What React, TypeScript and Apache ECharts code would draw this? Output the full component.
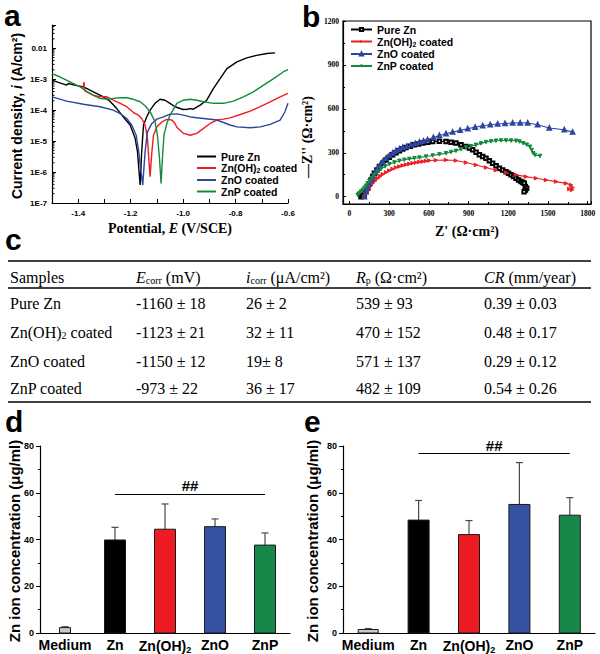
import React, { useEffect, useRef } from 'react';
import * as echarts from 'echarts';

const SANS = "'Liberation Sans', Arial, Helvetica, sans-serif";
const SERIF = "'Liberation Serif', 'Times New Roman', Times, serif";

// ---------- shared ----------
const seriesNames = ['Pure Zn', 'Zn(OH)2 coated', 'ZnO coated', 'ZnP coated'];
const lineColors = ['#000000', '#ee1d23', '#2e45a0', '#138a3c'];

// ---------- panel a: Tafel curves, [E (V vs SCE), log10 i (A/cm2)] ----------
const tafelPureZn = [
  [-1.5, -3.03], [-1.47, -3.12], [-1.444, -3.19], [-1.438, -3.14], [-1.41, -3.2], [-1.38, -3.25],
  [-1.342, -3.41], [-1.304, -3.57], [-1.279, -3.71], [-1.253, -3.95], [-1.228, -4.22], [-1.202, -4.48],
  [-1.183, -4.91], [-1.174, -5.35], [-1.169, -5.88], [-1.164, -6.42], [-1.158, -5.35], [-1.151, -4.48],
  [-1.139, -4.22], [-1.126, -4.0], [-1.107, -3.78], [-1.088, -3.65], [-1.069, -3.68], [-1.05, -3.78],
  [-1.031, -3.89], [-1.0, -3.98], [-0.985, -3.97], [-0.973, -3.95], [-0.961, -3.97], [-0.935, -3.84],
  [-0.91, -3.68], [-0.884, -3.3], [-0.859, -2.98], [-0.833, -2.66], [-0.795, -2.44], [-0.757, -2.31],
  [-0.719, -2.23], [-0.681, -2.17], [-0.649, -2.15],
];
const tafelZnOH2 = [
  [-1.381, -3.3], [-1.378, -3.09], [-1.375, -3.38], [-1.368, -3.41], [-1.342, -3.52], [-1.317, -3.57],
  [-1.291, -3.57], [-1.266, -3.68], [-1.24, -3.78], [-1.215, -3.89], [-1.19, -4.07], [-1.171, -4.16],
  [-1.158, -4.27], [-1.145, -4.48], [-1.136, -4.91], [-1.131, -5.56], [-1.126, -6.15], [-1.119, -5.35],
  [-1.113, -4.81], [-1.1, -4.54], [-1.081, -4.38], [-1.062, -4.3], [-1.043, -4.32], [-1.031, -4.43],
  [-1.024, -4.55], [-0.999, -4.75], [-0.973, -4.81], [-0.948, -4.75], [-0.922, -4.59], [-0.897, -4.43],
  [-0.871, -4.32], [-0.846, -4.29], [-0.821, -4.25], [-0.782, -4.14], [-0.744, -4.03], [-0.706, -3.89],
  [-0.668, -3.73], [-0.63, -3.57], [-0.6, -3.46],
];
const tafelZnO = [
  [-1.5, -3.57], [-1.444, -3.71], [-1.38, -3.81], [-1.317, -3.89], [-1.266, -4.0], [-1.24, -4.11],
  [-1.215, -4.27], [-1.196, -4.48], [-1.179, -4.81], [-1.169, -5.35], [-1.162, -5.88], [-1.154, -6.42],
  [-1.145, -5.35], [-1.136, -4.7], [-1.119, -4.43], [-1.1, -4.29], [-1.075, -4.22], [-1.05, -4.13],
  [-1.024, -4.12], [-0.999, -4.16], [-0.973, -4.22], [-0.922, -4.27], [-0.871, -4.32], [-0.846, -4.4],
  [-0.821, -4.48], [-0.795, -4.54], [-0.744, -4.57], [-0.706, -4.54], [-0.668, -4.46], [-0.63, -4.32],
  [-0.612, -4.06], [-0.6, -3.78],
];
const tafelZnP = [
  [-1.5, -2.82], [-1.469, -2.93], [-1.431, -3.09], [-1.393, -3.25], [-1.368, -3.39], [-1.342, -3.52],
  [-1.317, -3.62], [-1.291, -3.65], [-1.266, -3.62], [-1.24, -3.6], [-1.215, -3.6], [-1.19, -3.65],
  [-1.164, -3.73], [-1.145, -3.86], [-1.126, -4.05], [-1.107, -4.38], [-1.098, -4.81], [-1.09, -5.56],
  [-1.084, -6.37], [-1.079, -5.56], [-1.073, -4.81], [-1.062, -4.43], [-1.05, -4.16], [-1.031, -3.89],
  [-1.024, -3.78], [-0.999, -3.68], [-0.973, -3.65], [-0.948, -3.68], [-0.922, -3.73], [-0.884, -3.78],
  [-0.846, -3.78], [-0.808, -3.71], [-0.77, -3.57], [-0.732, -3.41], [-0.693, -3.19], [-0.655, -2.98],
  [-0.617, -2.76], [-0.6, -2.69],
];
const potentialTickLabels = ['-1.4', '-1.2', '-1.0', '-0.8', '-0.6'];
const currentTickLabels = ['1E-7', '1E-6', '1E-5', '1E-4', '1E-3', '0.01']; // log10 = -7 .. -2
const currentDecades = [-7, -6, -5, -4, -3, -2];
const logMinorMultipliers = [2, 3, 4, 5, 6, 7, 8, 9];

// ---------- panel b: Nyquist plots, [Z' , -Z''] (ohm cm2) ----------
const eisPureZn = [
  [88, 0], [100, 6], [113, 11], [125, 35], [138, 57], [150, 85], [164, 114], [176, 138], [189, 160],
  [208, 183], [227, 206], [252, 229], [277, 251], [302, 269], [327, 286], [352, 300], [378, 313],
  [403, 325], [428, 336], [460, 345], [491, 354], [522, 360], [554, 366], [592, 372], [629, 377],
  [680, 378], [730, 377], [768, 372], [805, 366], [843, 354], [881, 343], [906, 332], [931, 320],
  [957, 303], [982, 286], [1007, 274], [1032, 263], [1057, 246], [1082, 229], [1108, 211], [1133, 194],
  [1158, 183], [1183, 171], [1202, 160], [1221, 149], [1240, 137], [1259, 126], [1278, 114], [1296, 103],
  [1310, 97], [1321, 91], [1329, 69], [1339, 57], [1330, 45], [1320, 34],
];
const eisZnOH2 = [
  [113, 0], [120, 12], [126, 23], [138, 40], [151, 57], [163, 75], [176, 91], [195, 108], [214, 126],
  [233, 140], [252, 153], [277, 166], [302, 178], [327, 189], [352, 199], [378, 206], [403, 213],
  [428, 219], [453, 224], [478, 229], [503, 233], [529, 237], [554, 240], [579, 244], [604, 247],
  [654, 249], [730, 251], [805, 247], [881, 233], [956, 217], [1032, 199], [1107, 181], [1183, 165],
  [1259, 149], [1334, 137], [1410, 126], [1485, 114], [1561, 103], [1636, 91], [1674, 80], [1686, 62],
  [1681, 46], [1661, 53],
];
const eisZnO = [
  [113, 0], [126, 34], [138, 62], [151, 91], [164, 114], [176, 137], [195, 166], [214, 194], [233, 218],
  [252, 240], [277, 262], [302, 281], [327, 299], [352, 315], [378, 326], [403, 336], [434, 345],
  [466, 354], [497, 364], [529, 373], [560, 381], [591, 389], [635, 404], [680, 418], [730, 430],
  [780, 441], [837, 453], [894, 464], [950, 475], [1007, 485], [1064, 491], [1120, 496], [1176, 500],
  [1233, 503], [1290, 504], [1347, 503], [1422, 491], [1510, 469], [1623, 457], [1686, 441],
];
const eisZnP = [
  [63, 11], [70, 17], [76, 23], [88, 35], [101, 46], [113, 60], [126, 75], [138, 91], [151, 107],
  [170, 128], [189, 149], [214, 170], [239, 190], [270, 207], [302, 222], [340, 234], [378, 245],
  [415, 252], [453, 258], [491, 263], [529, 267], [579, 274], [629, 281], [680, 289], [730, 297],
  [768, 305], [805, 313], [843, 324], [881, 336], [918, 345], [956, 354], [994, 364], [1032, 373],
  [1070, 378], [1107, 382], [1145, 384], [1183, 384], [1221, 383], [1259, 382], [1285, 377],
  [1313, 365], [1340, 355], [1364, 341], [1377, 319], [1389, 296], [1402, 285], [1440, 278],
];

// ---------- panel c: table ----------
const tableSamples = ['Pure Zn', 'Zn(OH)2 coated', 'ZnO coated', 'ZnP coated'];
const tableEcorr = ['-1160 ± 18', '-1123 ± 21', '-1150 ± 12', '-973 ± 22'];
const tableIcorr = ['26 ± 2', '32 ± 11', '19± 8', '36 ± 17'];
const tableRp = ['539 ± 93', '470 ± 152', '571 ± 137', '482 ± 109'];
const tableCR = ['0.39 ± 0.03', '0.48 ± 0.17', '0.29 ± 0.12', '0.54 ± 0.26'];

// ---------- panels d, e: Zn ion concentration (ug/ml) ----------
const ionCategories = ['Medium', 'Zn', 'Zn(OH)2', 'ZnO', 'ZnP'];
const ionD = [2.3, 39.8, 44.4, 45.5, 37.6];
const ionDErr = [0.4, 5.4, 10.8, 3.3, 5.2];
const ionE = [1.5, 48.3, 42.1, 55.0, 50.4];
const ionEErr = [0.4, 8.4, 6.0, 17.9, 7.5];
const sigD = 59.3;
const sigE = 76.7;
const barColors = ['#c9c9c9', '#000000', '#ed1c24', '#3552a3', '#17884a'];

const subify = (s: string) => s.replace('(OH)2', '(OH){sub|2}');

function makeBars(values: number[], errs: number[], gi: number, mediumWidth: number, barWidth: number) {
  return {
    type: 'custom',
    xAxisIndex: gi,
    yAxisIndex: gi,
    silent: true,
    encode: { x: 0, y: 1 },
    data: values.map((v, i) => [i, v, errs[i]]),
    renderItem: (params: any, api: any) => {
      const idx = params.dataIndex;
      const x = api.value(0);
      const y = api.value(1);
      const e = api.value(2);
      const base = api.coord([x, 0]);
      const top = api.coord([x, y]);
      const et = api.coord([x, y + e]);
      const w = idx === 0 ? mediumWidth : barWidth;
      return {
        type: 'group',
        children: [
          { type: 'line', shape: { x1: top[0], y1: top[1], x2: top[0], y2: et[1] }, style: { stroke: '#4a4a4a', lineWidth: 1.2 } },
          { type: 'line', shape: { x1: top[0] - 3.5, y1: et[1], x2: top[0] + 3.5, y2: et[1] }, style: { stroke: '#4a4a4a', lineWidth: 1.2 } },
          { type: 'rect', shape: { x: base[0] - w / 2, y: top[1], width: w, height: base[1] - top[1] }, style: { fill: barColors[idx], stroke: '#1a1a1a', lineWidth: 1 } },
        ],
      };
    },
  };
}

function sigLine(level: number, gi: number) {
  return {
    type: 'line',
    xAxisIndex: gi,
    yAxisIndex: gi,
    silent: true,
    symbol: 'none',
    lineStyle: { opacity: 0 },
    data: [['Zn', level], ['ZnP', level]],
    markLine: {
      silent: true,
      symbol: ['none', 'none'],
      lineStyle: { color: '#000', width: 1.2, type: 'solid' },
      label: { show: true, position: 'insideMiddleTop', formatter: '##', distance: 1, color: '#000', fontSize: 15, fontWeight: 'bold', fontFamily: SANS },
      data: [[{ coord: ['Zn', level] }, { coord: ['ZnP', level] }]],
    },
  };
}

const subRich = (size: number, family: string, pad: number) => ({
  sub: { fontSize: size, fontWeight: 'bold', fontFamily: family, color: '#000', padding: [pad, 0, 0, 0] },
});

function ionAxes(gi: number) {
  const x = {
    gridIndex: gi,
    type: 'category',
    data: ionCategories,
    axisLine: { show: true, lineStyle: { color: '#000', width: 1.2 } },
    axisTick: { show: false },
    axisLabel: {
      interval: 0,
      margin: 5,
      color: '#000',
      fontSize: 14,
      fontWeight: 'bold',
      fontFamily: SANS,
      formatter: (v: string) => subify(v),
      rich: subRich(9, SANS, 7),
    },
    splitLine: { show: false },
  };
  const y = {
    gridIndex: gi,
    type: 'value',
    min: 0,
    max: 80,
    interval: 20,
    axisLine: { show: true, lineStyle: { color: '#000', width: 1.2 } },
    axisTick: { show: true, length: 4, lineStyle: { color: '#000' } },
    minorTick: { show: true, splitNumber: 2, length: 2, lineStyle: { color: '#000' } },
    axisLabel: { margin: 6, color: '#000', fontSize: 9, fontWeight: 'bold', fontFamily: SANS },
    splitLine: { show: false },
  };
  return { x, y };
}

const App: React.FC = () => {
  const ref = useRef<HTMLDivElement>(null);
  useEffect(() => {
    document.body.style.margin = '0';
    if (!ref.current) return;
    const chart = echarts.init(ref.current, undefined, { renderer: 'svg' });

    const tafelData = [tafelPureZn, tafelZnOH2, tafelZnO, tafelZnP];
    const eisData = [eisPureZn, eisZnOH2, eisZnO, eisZnP];
    const eisSymbols = ['emptyRect', 'triangle', 'emptyTriangle', 'triangle'];
    const eisRotate = [0, -90, 0, 180];

    // log-axis minor tick positions (axis decoration) for panel a
    const minorTickLogs: number[] = [];
    currentDecades.forEach((d) =>
      logMinorMultipliers.forEach((m) => {
        const v = d + Math.log10(m);
        if (v <= -1.25) minorTickLogs.push(v);
      })
    );

    const dAx = ionAxes(2);
    const eAx = ionAxes(3);

    const graphic: any[] = [];
    const letter = (t: string, x: number, y: number) =>
      graphic.push({ type: 'text', x, y, silent: true, style: { text: t, fill: '#000', fontSize: 30, fontWeight: 'bold', fontFamily: SANS, verticalAlign: 'middle' } });
    letter('a', 4, 15);
    letter('b', 302, 16.5);
    letter('c', 5, 239.5);
    letter('d', 5, 421.5);
    letter('e', 304, 421.5);

    const title = (text: string, x: number, y: number, family: string, size: number, rotate: boolean, rich: any) =>
      graphic.push({
        type: 'text', x, y, rotation: rotate ? Math.PI / 2 : 0, silent: true,
        style: { text, fill: '#000', fontSize: size, fontWeight: 'bold', fontFamily: family, align: 'center', verticalAlign: 'middle', rich },
      });
    const itRich = (size: number, family: string) => ({ it: { fontSize: size, fontWeight: 'bold', fontStyle: 'italic', fontFamily: family, fill: '#000' } });
    title('Current density, {it|i} (A/cm²)', 17, 116, SANS, 14, true, itRich(14, SANS));
    title('Potential, {it|E} (V/SCE)', 170, 228, SERIF, 14, false, itRich(14, SERIF));
    title("Z' (Ω·cm²)", 467, 231, SERIF, 14, false, {});
    title("—Z'' (Ω·cm²)", 307, 137, SERIF, 14, true, {});
    title('Zn ion concentration (μg/ml)', 14, 541, SANS, 15, true, {});
    title('Zn ion concentration (μg/ml)', 312, 541, SANS, 15, true, {});

    // table
    const tRich = {
      it: { fontSize: 16, fontStyle: 'italic', fontFamily: SERIF, fill: '#000' },
      sub: { fontSize: 10, fontFamily: SERIF, fill: '#000', padding: [7, 0, 0, 0] },
    };
    const colX = [10, 136, 246, 356, 484];
    const headerY = 277;
    const rowY = [303, 332, 361, 388];
    const cell = (text: string, x: number, y: number) =>
      graphic.push({ type: 'text', x, y, silent: true, style: { text, fill: '#000', fontSize: 16, fontFamily: SERIF, verticalAlign: 'middle', rich: tRich } });
    const headers = ['Samples', '{it|E}{sub|corr} (mV)', '{it|i}{sub|corr} (μA/cm²)', '{it|R}{sub|p} (Ω·cm²)', '{it|CR} (mm/year)'];
    headers.forEach((h, i) => cell(h, colX[i], headerY));
    tableSamples.forEach((s, r) => {
      cell(subify(s), colX[0], rowY[r]);
      cell(tableEcorr[r], colX[1], rowY[r]);
      cell(tableIcorr[r], colX[2], rowY[r]);
      cell(tableRp[r], colX[3], rowY[r]);
      cell(tableCR[r], colX[4], rowY[r]);
    });
    const rule = (y: number, w: number) =>
      graphic.push({ type: 'line', silent: true, shape: { x1: 8, y1: y, x2: 591, y2: y }, style: { stroke: '#000', lineWidth: w } });
    rule(261, 1.5);
    rule(288, 1.3);
    rule(402, 1.5);

    const option: any = {
      animation: false,
      backgroundColor: '#ffffff',
      grid: [
        { left: 52, top: 25, width: 236, height: 178, outerBoundsMode: 'none' },
        { left: 343, top: 21, width: 248, height: 183, show: true, borderColor: '#000', borderWidth: 1.2, backgroundColor: 'transparent', outerBoundsMode: 'none' },
        { left: 40, top: 446, width: 250, height: 187, outerBoundsMode: 'none' },
        { left: 343, top: 446, width: 252, height: 187, outerBoundsMode: 'none' },
      ],
      xAxis: [
        {
          gridIndex: 0, type: 'value', min: -1.5, max: -0.6, interval: 0.1,
          axisLine: { show: true, onZero: false, lineStyle: { color: '#000', width: 1.2 } },
          axisTick: { show: true, inside: true, length: 4, lineStyle: { color: '#000' } },
          axisLabel: {
            margin: 6, color: '#000', fontSize: 8, fontWeight: 'bold', fontFamily: SANS,
            formatter: (v: number) => (potentialTickLabels.includes(v.toFixed(1)) ? v.toFixed(1) : ''),
          },
          splitLine: { show: false },
        },
        {
          gridIndex: 1, type: 'value', min: -48, max: 1825, splitNumber: 6,
          axisLine: { show: true, onZero: false, lineStyle: { color: '#000', width: 1.2 } },
          axisTick: { show: true, inside: true, length: 3, lineStyle: { color: '#000' } },
          minorTick: { show: true, splitNumber: 2, length: 2, lineStyle: { color: '#000' } },
          axisLabel: {
            margin: 5, color: '#000', fontSize: 7.5, fontWeight: 'bold', fontFamily: SERIF,
            formatter: (v: number) => (v >= 0 && Math.abs(v % 300) < 1e-6 ? String(v) : ''),
          },
          splitLine: { show: false },
        },
        dAx.x,
        eAx.x,
      ],
      yAxis: [
        {
          gridIndex: 0, type: 'value', min: -7, max: -1.25, interval: 1,
          axisLine: { show: true, onZero: false, lineStyle: { color: '#000', width: 1.2 } },
          axisTick: { show: true, inside: true, length: 4, lineStyle: { color: '#000' } },
          axisLabel: {
            margin: 5, color: '#000', fontSize: 8, fontWeight: 'bold', fontFamily: SANS,
            formatter: (v: number) => {
              const r = Math.round(v);
              return Math.abs(v - r) < 1e-6 && r >= -7 && r <= -2 ? currentTickLabels[r + 7] : '';
            },
          },
          splitLine: { show: false },
        },
        {
          gridIndex: 1, type: 'value', min: -50, max: 1200, splitNumber: 4,
          axisLine: { show: true, onZero: false, lineStyle: { color: '#000', width: 1.2 } },
          axisTick: { show: true, inside: true, length: 3, lineStyle: { color: '#000' } },
          minorTick: { show: true, splitNumber: 2, length: 2, lineStyle: { color: '#000' } },
          axisLabel: {
            margin: 4, color: '#000', fontSize: 7.5, fontWeight: 'bold', fontFamily: SERIF,
            formatter: (v: number) => (v >= 0 && Math.abs(v % 300) < 1e-6 ? String(v) : ''),
          },
          splitLine: { show: false },
        },
        dAx.y,
        eAx.y,
      ],
      legend: [
        {
          data: seriesNames.map((n) => 'a|' + n),
          orient: 'vertical', left: 197, top: 151, padding: 0,
          itemWidth: 19, itemHeight: 2, itemGap: 0.5, icon: 'rect', selectedMode: false,
          formatter: (n: string) => subify(n.slice(2)),
          textStyle: { color: '#000', fontSize: 10.5, fontWeight: 'bold', fontFamily: SANS, rich: subRich(7, SANS, 5) },
        },
        {
          data: seriesNames.map((n) => 'b|' + n),
          orient: 'vertical', left: 350, top: 24, padding: 0,
          itemWidth: 21, itemHeight: 4, itemGap: 1, selectedMode: false,
          formatter: (n: string) => subify(n.slice(2)),
          textStyle: { color: '#000', fontSize: 10.5, fontWeight: 'bold', fontFamily: SANS, rich: subRich(7, SANS, 5) },
        },
      ],
      series: [
        ...tafelData.map((d, i) => ({
          type: 'line', name: 'a|' + seriesNames[i], xAxisIndex: 0, yAxisIndex: 0, data: d,
          symbol: 'none', showSymbol: false, silent: true, clip: true,
          lineStyle: { color: lineColors[i], width: 1.4 }, itemStyle: { color: lineColors[i] },
        })),
        {
          type: 'custom', xAxisIndex: 0, yAxisIndex: 0, silent: true,
          data: minorTickLogs.map((v) => [-1.5, v]),
          encode: { x: 0, y: 1 },
          renderItem: (params: any, api: any) => {
            const p = api.coord([api.value(0), api.value(1)]);
            return { type: 'line', shape: { x1: p[0], y1: p[1], x2: p[0] + 2.5, y2: p[1] }, style: { stroke: '#000', lineWidth: 1 } };
          },
        },
        ...eisData.map((d, i) => ({
          type: 'line', name: 'b|' + seriesNames[i], xAxisIndex: 1, yAxisIndex: 1, data: d,
          symbol: eisSymbols[i], symbolSize: 3.5, symbolRotate: eisRotate[i], showSymbol: true, silent: true,
          lineStyle: { color: lineColors[i], width: 1.1 }, itemStyle: { color: lineColors[i], borderColor: lineColors[i] },
        })),
        makeBars(ionD, ionDErr, 2, 11, 21),
        makeBars(ionE, ionEErr, 3, 20, 21),
        sigLine(sigD, 2),
        sigLine(sigE, 3),
      ],
      graphic,
    };
    chart.setOption(option);
    return () => chart.dispose();
  }, []);
  return <div ref={ref} style={{ width: 600, height: 654 }} />;
};

export default App;
